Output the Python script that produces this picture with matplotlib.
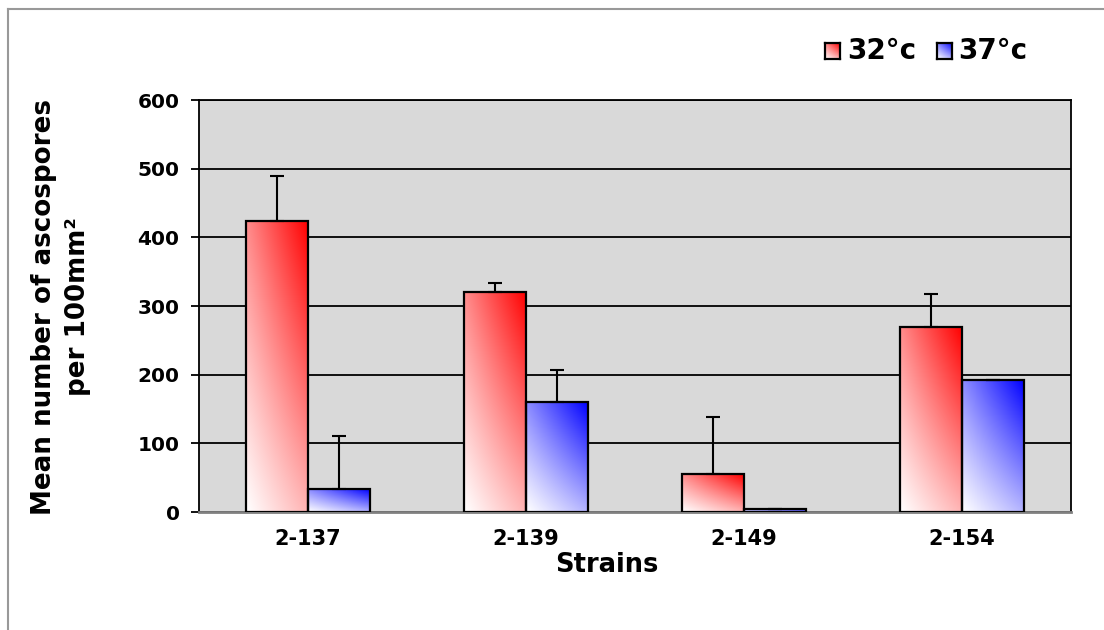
import numpy as np
import matplotlib
matplotlib.use("Agg")
import matplotlib.pyplot as plt
from matplotlib.lines import Line2D

# data
strains = ["2-137", "2-139", "2-149", "2-154"]
series_names = ["32°c", "37°c"]
mean_32 = [424, 321, 55, 269]
err_32 = [66, 13, 83, 48]
mean_37 = [33, 160, 4, 192]
err_37 = [78, 47, 0, 0]
y_ticks = [0, 100, 200, 300, 400, 500, 600]

RED = np.array([1.0, 0.0, 0.0])
BLUE = np.array([0.0, 0.0, 1.0])
BAR_W = 0.285


def gradient_img(color, n=64):
    # white at bottom-left, full colour at top-right
    xs = np.linspace(0, 1, n)
    ys = np.linspace(0, 1, n)
    xx, yy = np.meshgrid(xs, ys)
    t = np.clip(0.3 * xx + 0.45 * yy + 0.25 * xx * yy, 0, 1)[..., None]
    return (1 - t) * np.ones(3) + t * color


def gradient_bar(ax, x0, width, height, color):
    if height <= 0:
        return
    ax.imshow(gradient_img(color), extent=[x0, x0 + width, 0, height], origin="lower",
              aspect="auto", interpolation="bilinear", zorder=2)
    ax.add_patch(plt.Rectangle((x0, 0), width, height, fill=False, edgecolor="black",
                               linewidth=1.6, zorder=3))


fig = plt.figure(figsize=(11.04, 6.30), dpi=100)
ax = fig.add_axes([199 / 1104, 1 - 512 / 630, (1071 - 199) / 1104, (512 - 100) / 630])
ax.set_facecolor("#d9d9d9")

x = np.arange(len(strains))
for i in range(len(strains)):
    gradient_bar(ax, x[i] - BAR_W, BAR_W, mean_32[i], RED)
    gradient_bar(ax, x[i], BAR_W, mean_37[i], BLUE)

ax.errorbar(x - BAR_W / 2, mean_32, yerr=[[0] * 4, err_32], fmt="none", ecolor="black",
            elinewidth=1.5, capsize=5, capthick=1.5, zorder=4)
ax.errorbar(x + BAR_W / 2, mean_37, yerr=[[0] * 4, err_37], fmt="none", ecolor="black",
            elinewidth=1.5, capsize=5, capthick=1.5, zorder=4)

ax.set_xlim(-0.5, len(strains) - 0.5)
ax.set_ylim(0, 600)
ax.set_yticks(y_ticks)
ax.set_yticklabels([str(v) for v in y_ticks], fontsize=14.5, fontweight="bold")
ax.set_xticks(x)
ax.set_xticklabels(strains, fontsize=15, fontweight="bold")
ax.tick_params(axis="x", length=0, pad=12)
ax.tick_params(axis="y", length=6, width=1.3, direction="out", pad=8)
ax.yaxis.grid(True, color="black", linewidth=1.3)
ax.set_axisbelow(True)
for side in ["left", "top", "right"]:
    ax.spines[side].set_color("black")
    ax.spines[side].set_linewidth(1.3)
ax.spines["bottom"].set_color("#808080")
ax.spines["bottom"].set_linewidth(2)

fig.text(607 / 1104, 1 - 565 / 630, "Strains", ha="center", va="center",
         fontsize=18.5, fontweight="bold")
fig.text(61 / 1104, 1 - 307 / 630, "Mean number of ascospores\nper 100mm²", ha="center",
         va="center", rotation=90, fontsize=18.8, fontweight="bold", linespacing=1.38)

# legend, drawn by hand so the keys carry the gradient
legend_items = [(825, 847, RED, series_names[0]), (937, 958, BLUE, series_names[1])]
for sq_x, txt_x, col, name in legend_items:
    kax = fig.add_axes([sq_x / 1104, 1 - 59 / 630, 15 / 1104, 16 / 630])
    kax.imshow(gradient_img(col), origin="lower", aspect="auto", extent=[0, 1, 0, 1])
    kax.set_xticks([])
    kax.set_yticks([])
    for sp in kax.spines.values():
        sp.set_linewidth(1.6)
    fig.text(txt_x / 1104, 1 - 51 / 630, name, ha="left", va="center",
             fontsize=20, fontweight="bold")

# grey frame, only top and left edges are visible in the reference
fig.add_artist(Line2D([8 / 1104, 8 / 1104], [0, 1 - 9 / 630], transform=fig.transFigure,
                      color="#999999", linewidth=1.5))
fig.add_artist(Line2D([8 / 1104, 1], [1 - 9 / 630, 1 - 9 / 630], transform=fig.transFigure,
                      color="#999999", linewidth=1.5))

fig.savefig("out.png", dpi=100)
